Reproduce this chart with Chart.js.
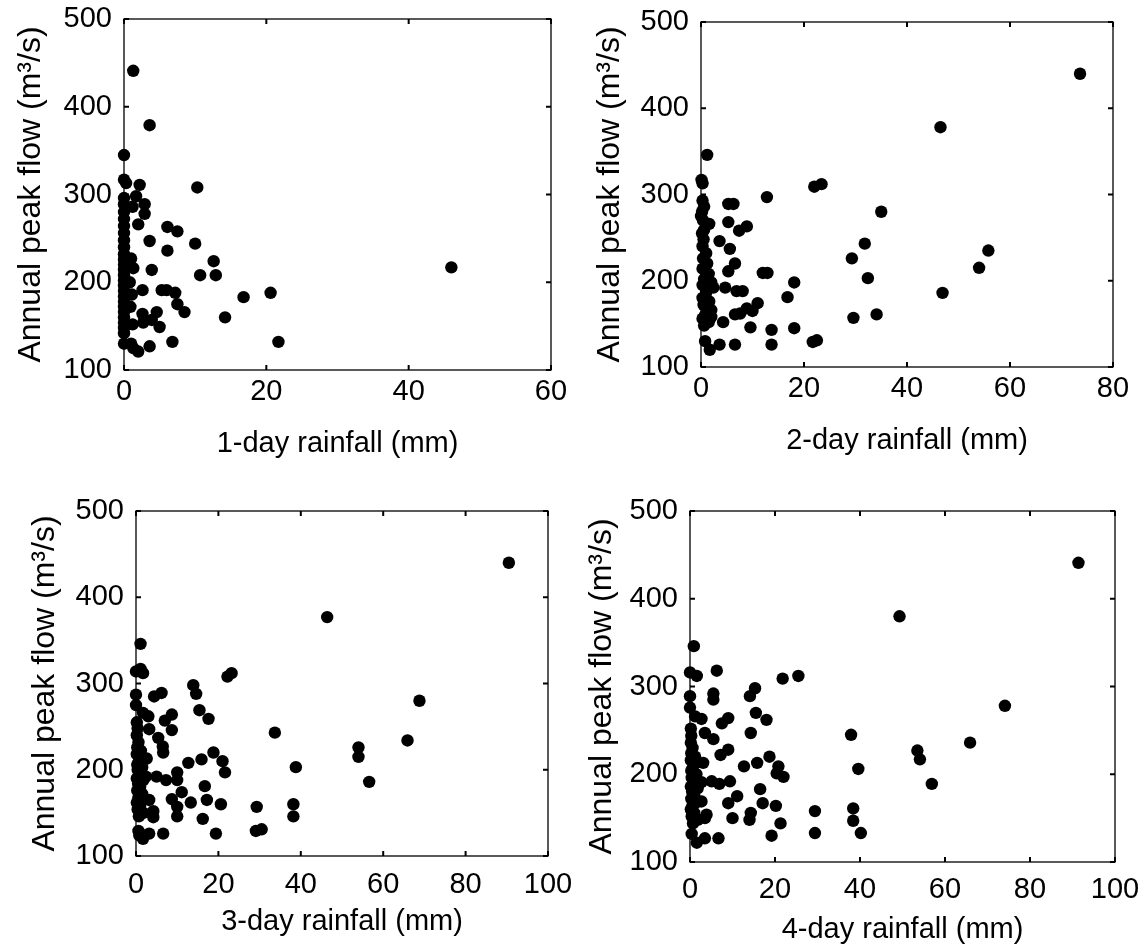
<!DOCTYPE html>
<html>
<head>
<meta charset="utf-8">
<script src="https://cdn.jsdelivr.net/npm/chart.js@4.4.1/dist/chart.umd.min.js"></script>
<style>
  html, body { margin: 0; padding: 0; background: #fff; }
  body { width: 1146px; height: 949px; position: relative; overflow: hidden; }
  canvas { position: absolute; }
</style>
</head>
<body>
<canvas id="p1"></canvas>
<canvas id="p2"></canvas>
<canvas id="p3"></canvas>
<canvas id="p4"></canvas>
<script>
// Axis text and ranges
const Y_TITLE = 'Annual peak flow (m³/s)';
const X_TITLES = ['1-day rainfall (mm)', '2-day rainfall (mm)', '3-day rainfall (mm)', '4-day rainfall (mm)'];
const X_MAX = [60, 80, 100, 100];
const X_STEP = 20;
const Y_MIN = 100, Y_MAX = 500, Y_STEP = 100;

// 1-day rainfall vs peak flow
const X1 = [1.3, 3.6, 0, 0, 0.3, 2.2, 10.3, 1.7, 0, 1.2, 2.9, 2.9, 2.0, 6.1, 7.5, 3.6, 10.0, 6.1, 12.6, 3.9, 10.7, 12.9,
  2.6, 5.3, 6.0, 7.2, 20.6, 16.8, 7.5, 8.5, 4.6, 2.6, 14.2, 3.9, 2.7, 5.0, 1.2, 6.8, 21.7, 3.6, 0, 1.0, 2.0, 1.3, 46,
  0, 0, 0, 0, 0, 0, 0, 0, 0, 0, 0, 0, 0, 0, 0, 0, 0, 0, 0, 0, 0, 0, 0,
  1.0, 1.3, 0.8, 1.1, 0.9];
const Y1 = [441, 379, 345, 317, 313, 311, 308, 298, 289, 286, 289, 278, 266, 263, 258, 247, 244, 236, 224, 214, 208, 208,
  191, 191, 191, 188, 188, 183, 175, 166, 166, 164, 160, 157, 154, 149, 152, 132, 132, 127, 130, 130, 121, 125, 217,
  296, 280, 272, 264, 256, 248, 240, 232, 226, 220, 214, 208, 202, 196, 190, 184, 178, 172, 166, 160, 154, 148, 142,
  227, 216, 200, 186, 172];

// 2-day
const X2 = [1.2, 0.1, 0.3, 22.0, 23.4, 12.8, 0.6, 5.3, 6.3, 35, 0, 1.6, 5.3, 8.9, 7.4, 0.6, 3.6, 31.8, 5.6, 29.3, 6.6, 5.3,
  12.0, 12.9, 32.4, 18.1, 2.4, 4.7, 6.9, 8.1, 16.8, 11.0, 8.9, 10.0, 6.6, 7.6, 34.1, 29.6, 4.3, 9.6, 18.1, 13.7, 21.7,
  22.5, 13.7, 6.6, 3.6, 0.8, 1.7, 73.6, 46.5, 55.8, 54.0, 46.9,
  0.3, 0.2, 0.4, 0.2, 0.5, 0.3, 1.0, 0.4, 1.2, 0.3, 1.5, 0.6, 2.0, 0.3, 1.0, 0.3, 1.6, 0.5, 2.0, 0.8, 0.3, 1.5, 0.6, 2.0];
const Y2 = [346, 317, 313, 309, 312, 297, 286, 289, 289, 280, 275, 266, 268, 263, 258, 259, 246, 243, 237, 226, 220, 211,
  209, 209, 203, 198, 192, 192, 188, 188, 181, 174, 168, 165, 161, 162, 161, 157, 152, 146, 145, 143, 129,
  131, 126, 126, 126, 130, 120, 440, 378, 235, 215, 186,
  293, 280, 270, 255, 248, 240, 232, 226, 220, 214, 208, 202, 198, 195, 186, 180, 176, 172, 166, 160, 156, 152, 148, 158];

// 3-day
const X3 = [46.4, 1.1, 0, 1.1, 1.7, 22.2, 23.2, 13.9, 14.6, 4.4, 6.2, 0, 0, 1.7, 3.0, 8.7, 7.0, 15.4, 17.6, 3.2, 8.7, 33.7,
  5.4, 6.5, 6.6, 18.8, 15.9, 12.7, 21.0, 21.6, 38.8, 2.6, 5.0, 7.3, 10.0, 10.0, 16.7, 11.1, 8.7, 17.2, 13.3, 20.6, 29.3,
  38.2, 38.2, 10.0, 10.0, 4.2, 4.2, 16.2, 3.2, 29.1, 30.5, 19.4, 6.6, 3.2, 0.6, 1.7, 0.8, 90.5, 68.8, 65.9, 54.0, 54.0, 56.6,
  0.2, 0.4, 0.2, 0.6, 0.3, 1.2, 0.2, 0.8, 0.3, 1.5, 0.4, 0.8, 0.2, 1.8, 0.5, 1.0, 0.3, 1.5, 0.6, 0.2, 1.0, 0.4, 1.8, 0.7, 2.4];
const Y3 = [377, 346, 314, 317, 312, 308, 312, 298, 288, 285, 289, 287, 275, 266, 262, 264, 257, 269, 259, 247, 246, 243,
  237, 227, 220, 220, 212, 208, 210, 197, 203, 213, 192, 188, 197, 188, 181, 174, 166, 165, 162, 160, 157,
  160, 146, 157, 146, 152, 145, 143, 165, 129, 131, 126, 126, 126, 129, 120, 124, 440, 280, 234, 226, 215, 186,
  255, 248, 240, 232, 226, 222, 218, 212, 206, 203, 200, 194, 190, 188, 184, 180, 176, 172, 168, 162, 158, 154, 150, 146, 192];

// 4-day
const X4 = [49.3, 0.9, 0, 1.6, 6.3, 21.8, 25.5, 15.3, 14.1, 5.5, 5.5, 0, 0, 1.2, 2.7, 7.5, 9.0, 15.5, 18.0, 3.5, 14.3, 37.9,
  5.5, 9.0, 7.2, 18.7, 15.8, 12.7, 20.8, 20.4, 22.0, 39.6, 3.1, 5.1, 6.9, 9.4, 2.7, 16.5, 11.1, 9.0, 17.1, 20.2, 14.3,
  14.0, 29.4, 38.4, 38.4, 21.3, 10.0, 2.7, 3.9, 3.5, 29.4, 40.2, 19.2, 6.7, 3.5, 0.4, 1.6, 91.4, 74.1, 65.9, 53.5, 54.1, 56.9,
  0.2, 0.3, 0.2, 0.6, 0.3, 1.2, 0.2, 0.8, 0.3, 1.5, 0.4, 0.8, 0.2, 1.8, 0.5, 1.0, 0.3, 1.5, 0.6, 0.2, 1.0, 0.4, 1.8, 0.7];
const Y4 = [380, 346, 316, 312, 318, 309, 312, 298, 289, 292, 285, 289, 276, 266, 263, 258, 264, 270, 262, 247, 247, 245,
  240, 228, 222, 220, 213, 209, 209, 201, 197, 206, 213, 192, 189, 192, 191, 183, 175, 167, 167, 164, 156,
  148, 158, 161, 147, 144, 150, 169, 154, 150, 133, 133, 130, 127, 127, 132, 122, 441, 278, 236, 227, 217, 189,
  252, 244, 236, 230, 224, 220, 216, 210, 204, 200, 196, 190, 186, 184, 180, 176, 172, 168, 164, 160, 156, 152, 148, 144];

// where each plot box sits on the page
// (top/right margins are big enough that the tick label padding Chart.js adds doesn't push the box in)
const Y_AXIS_W = 124, PAD_TOP = 36, PAD_RIGHT = 45, X_AXIS_H = 104;
const TICK_SIZE = 29, XTITLE_SIZE = 29, YTITLE_SIZE = 32;

const panels = [
  { id: 'p1', xs: X1, ys: Y1, left: 124, right: 551, top: 19, bottom: 370, yTitle: 93, xTick: 22, xTitle: 74 },
  { id: 'p2', xs: X2, ys: Y2, left: 701, right: 1113, top: 22, bottom: 367, yTitle: 91, xTick: 22, xTitle: 74 },
  { id: 'p3', xs: X3, ys: Y3, left: 136, right: 548, top: 511, bottom: 856, yTitle: 91, xTick: 29, xTitle: 66 },
  { id: 'p4', xs: X4, ys: Y4, left: 690, right: 1115, top: 511, bottom: 862, yTitle: 88, xTick: 28, xTitle: 68 }
];

Chart.defaults.font.family = '"Liberation Sans", Arial, sans-serif';
Chart.defaults.color = '#000';

// MATLAB style box with small inward ticks on all four sides
const framePlugin = {
  id: 'frame',
  afterDatasetsDraw(chart) {
    const { ctx, chartArea: a, scales: { x, y } } = chart;
    const len = 5;
    ctx.save();
    ctx.strokeStyle = '#000';
    ctx.lineWidth = 1.3;
    ctx.strokeRect(a.left, a.top, a.right - a.left, a.bottom - a.top);
    ctx.lineWidth = 2;
    ctx.beginPath();
    x.ticks.forEach(t => {
      const px = x.getPixelForValue(t.value);
      ctx.moveTo(px, a.bottom); ctx.lineTo(px, a.bottom - len);
      ctx.moveTo(px, a.top); ctx.lineTo(px, a.top + len);
    });
    y.ticks.forEach(t => {
      const py = y.getPixelForValue(t.value);
      ctx.moveTo(a.left, py); ctx.lineTo(a.left + len, py);
      ctx.moveTo(a.right, py); ctx.lineTo(a.right - len, py);
    });
    ctx.stroke();
    ctx.restore();
  }
};

panels.forEach((p, i) => {
  const canvas = document.getElementById(p.id);
  const cLeft = p.left - Y_AXIS_W;
  const cTop = p.top - PAD_TOP;
  canvas.width = p.right - cLeft + PAD_RIGHT;
  canvas.height = p.bottom - cTop + X_AXIS_H;
  canvas.style.left = cLeft + 'px';
  canvas.style.top = cTop + 'px';

  new Chart(canvas, {
    type: 'scatter',
    data: {
      datasets: [{
        data: p.xs.map((v, k) => ({ x: v, y: p.ys[k] })),
        backgroundColor: '#000',
        borderWidth: 0,
        pointRadius: 6.2,
        clip: false
      }]
    },
    options: {
      responsive: false,
      animation: false,
      devicePixelRatio: 1,
      events: [],
      layout: { padding: { left: 0, right: PAD_RIGHT, top: PAD_TOP, bottom: 0 } },
      plugins: { legend: { display: false }, tooltip: { enabled: false } },
      scales: {
        x: {
          type: 'linear',
          min: 0,
          max: X_MAX[i],
          grid: { display: false, drawTicks: false },
          border: { display: false },
          ticks: { stepSize: X_STEP, autoSkip: false, maxRotation: 0, padding: p.xTick - TICK_SIZE * 0.6, font: { size: TICK_SIZE } },
          title: {
            display: true,
            text: X_TITLES[i],
            font: { size: XTITLE_SIZE },
            padding: { top: 0, bottom: X_AXIS_H - p.xTitle - XTITLE_SIZE * 0.6 }
          },
          afterFit(s) { s.height = X_AXIS_H; }
        },
        y: {
          min: Y_MIN,
          max: Y_MAX,
          grid: { display: false, drawTicks: false },
          border: { display: false },
          ticks: { stepSize: Y_STEP, padding: 12, font: { size: TICK_SIZE } },
          title: {
            display: true,
            text: Y_TITLE,
            font: { size: YTITLE_SIZE },
            padding: { top: Y_AXIS_W - p.yTitle - YTITLE_SIZE * 0.6, bottom: 0 }
          },
          afterFit(s) { s.width = Y_AXIS_W; }
        }
      }
    },
    plugins: [framePlugin]
  });
});
</script>
</body>
</html>
